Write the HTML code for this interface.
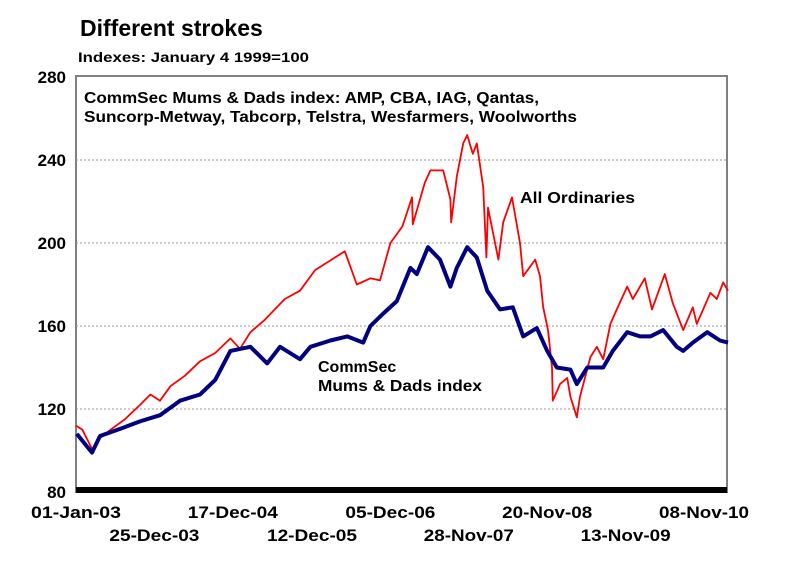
<!DOCTYPE html>
<html><head><meta charset="utf-8"><style>
html,body{margin:0;padding:0;background:#fff;}
svg{display:block;font-family:"Liberation Sans",Arial,sans-serif;}
</style></head><body>
<svg id="chart" width="792" height="587" viewBox="0 0 792 587">
<text x="80" y="36" font-size="23" font-weight="bold">Different strokes</text>
<text x="78" y="62" font-size="14" font-weight="bold" textLength="231" lengthAdjust="spacingAndGlyphs">Indexes: January 4 1999=100</text>
<rect x="76" y="76" width="651" height="416" fill="#fff" stroke="#808080" stroke-width="2"/>
<g id="grid"></g>
<g id="yticks"></g>
<g id="xticks"></g>
<rect x="76" y="487" width="651" height="6" fill="#000"/>
<text x="84" y="103" font-size="16" font-weight="bold" textLength="455" lengthAdjust="spacingAndGlyphs">CommSec Mums &amp; Dads index: AMP, CBA, IAG, Qantas,</text>
<text x="84" y="122" font-size="16" font-weight="bold" textLength="493" lengthAdjust="spacingAndGlyphs">Suncorp-Metway, Tabcorp, Telstra, Wesfarmers, Woolworths</text>
<g id="series"></g>
<text x="520" y="203" font-size="16" font-weight="bold" textLength="115" lengthAdjust="spacingAndGlyphs">All Ordinaries</text>
<text x="318" y="372" font-size="16" font-weight="bold">CommSec</text>
<text x="318" y="391" font-size="16" font-weight="bold" textLength="164" lengthAdjust="spacingAndGlyphs">Mums &amp; Dads index</text>
</svg>
<script>
const yTicks=[80,120,160,200,240,280];
const gridValues=[120,160,200,240];
const xTickLabels=["01-Jan-03","25-Dec-03","17-Dec-04","12-Dec-05","05-Dec-06","28-Nov-07","20-Nov-08","13-Nov-09","08-Nov-10"];
const xTickDates=[2003.0,2003.98,2004.96,2005.95,2006.93,2007.91,2008.89,2009.87,2010.85];
const allOrdDates=[2003.00,2003.08,2003.21,2003.30,2003.43,2003.61,2003.80,2003.93,2004.05,2004.18,2004.36,2004.55,2004.74,2004.93,2005.05,2005.18,2005.36,2005.61,2005.80,2005.99,2006.36,2006.51,2006.68,2006.80,2006.93,2007.08,2007.20,2007.21,2007.36,2007.43,2007.59,2007.68,2007.69,2007.76,2007.84,2007.89,2007.96,2008.01,2008.09,2008.13,2008.15,2008.28,2008.34,2008.45,2008.55,2008.59,2008.74,2008.80,2008.84,2008.90,2008.95,2008.96,2009.05,2009.14,2009.18,2009.26,2009.30,2009.43,2009.51,2009.59,2009.68,2009.76,2009.89,2009.96,2010.11,2010.20,2010.36,2010.46,2010.59,2010.71,2010.76,2010.93,2011.01,2011.09,2011.15];
const allOrdValues=[112,110,100,106,110,115,122,127,124,131,136,143,147,154,149,157,163,173,177,187,196,180,183,182,200,208,222,209,229,235,235,221,210,232,248,252,243,248,227,193,217,192,210,222,200,184,192,184,169,158,140,124,132,135,126,116,126,145,150,144,161,168,179,173,183,168,185,171,158,169,161,176,173,181,177];
const mumsDates=[2003.01,2003.20,2003.30,2003.59,2003.80,2004.05,2004.30,2004.55,2004.74,2004.93,2005.18,2005.39,2005.55,2005.80,2005.93,2006.18,2006.39,2006.59,2006.68,2006.84,2007.01,2007.18,2007.26,2007.40,2007.55,2007.68,2007.76,2007.89,2008.01,2008.14,2008.30,2008.46,2008.59,2008.76,2008.89,2009.01,2009.18,2009.26,2009.39,2009.59,2009.71,2009.89,2010.05,2010.18,2010.34,2010.51,2010.59,2010.71,2010.89,2011.05,2011.15];
const mumsValues=[108,99,107,111,114,117,124,127,134,148,150,142,150,144,150,153,155,152,160,166,172,188,185,198,192,179,188,198,193,177,168,169,155,159,148,140,139,132,140,140,148,157,155,155,158,150,148,152,157,153,152];

const NS="http://www.w3.org/2000/svg";
const X0=76,X1=727,Y0=492,Y1=77;
function xScale(t){return X0+(t-2003.0)*80;}
function yScale(v){return Y0-(v-80)*(Y0-Y1)/200;}
function mk(tag,attrs,parent){const e=document.createElementNS(NS,tag);for(const k in attrs)e.setAttribute(k,attrs[k]);parent.appendChild(e);return e;}

const grid=document.getElementById('grid');
gridValues.forEach(v=>{
  const l=mk('line',{x1:X0,x2:X1,y1:yScale(v),y2:yScale(v),stroke:'#999','stroke-width':1,'stroke-dasharray':'2,2'},grid);
  
  
});
const yt=document.getElementById('yticks');
yTicks.forEach(v=>{
  const t=mk('text',{x:66,y:yScale(v)+6,'text-anchor':'end','font-size':17,'font-weight':'bold'},yt);
  t.textContent=String(v);
  
  
});
const xt=document.getElementById('xticks');
xTickLabels.forEach((s,i)=>{
  const t=mk('text',{x:xScale(xTickDates[i]),y:i%2===0?518:541,'text-anchor':'middle','font-size':17,'font-weight':'bold',textLength:s.length>9?94:90,lengthAdjust:'spacingAndGlyphs'},xt);
  t.textContent=s;
  
  
});
const sg=document.getElementById('series');
function pts(d,v){return d.map((t,i)=>xScale(t).toFixed(1)+','+yScale(v[i]).toFixed(1)).join(' ');}
const red=mk('polyline',{points:pts(allOrdDates,allOrdValues),fill:'none',stroke:'#ff0000','stroke-width':1.8,'stroke-linejoin':'round'},sg);


const blue=mk('polyline',{points:pts(mumsDates,mumsValues),fill:'none',stroke:'#000080','stroke-width':4,'stroke-linejoin':'round'},sg);


</script>
</body></html>
